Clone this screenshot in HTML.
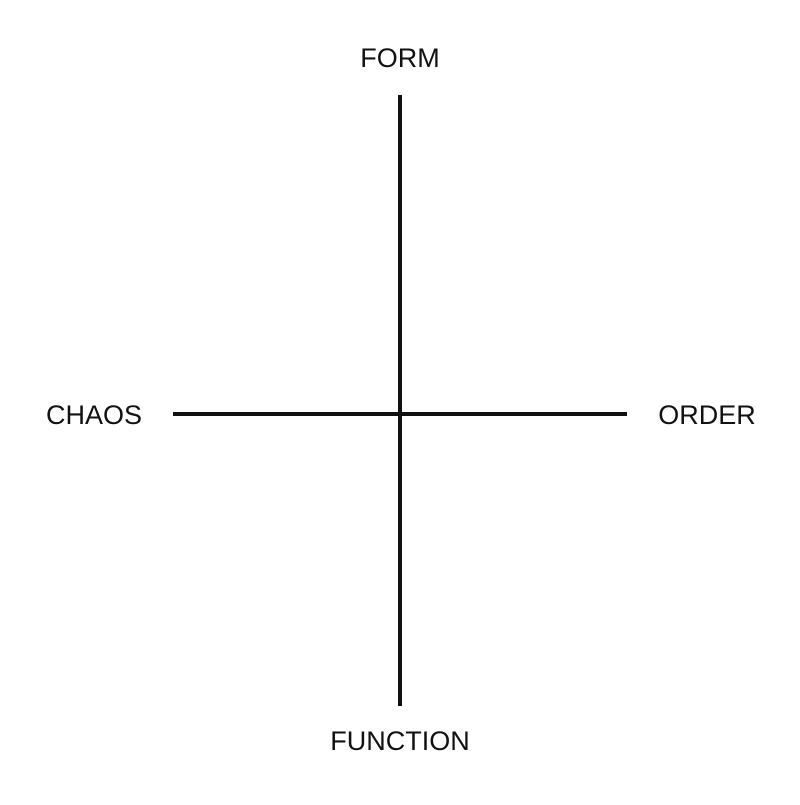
<!DOCTYPE html>
<html><head><meta charset="utf-8"><style>
html,body{margin:0;padding:0;background:#fff;}
svg text{font-family:"Liberation Sans",Arial,sans-serif;font-size:27px;fill:#111;}
</style></head><body>
<svg width="800" height="800" viewBox="0 0 800 800">
<rect width="800" height="800" fill="#fff"/>
<line x1="400" y1="95" x2="400" y2="706" stroke="#111" stroke-width="4"/>
<line x1="173" y1="414" x2="627" y2="414" stroke="#111" stroke-width="4"/>
<text x="400" y="67" text-anchor="middle">FORM</text>
<text x="400" y="750" text-anchor="middle">FUNCTION</text>
<text x="94" y="424" text-anchor="middle">CHAOS</text>
<text x="707" y="424" text-anchor="middle">ORDER</text>
</svg>
</body></html>
